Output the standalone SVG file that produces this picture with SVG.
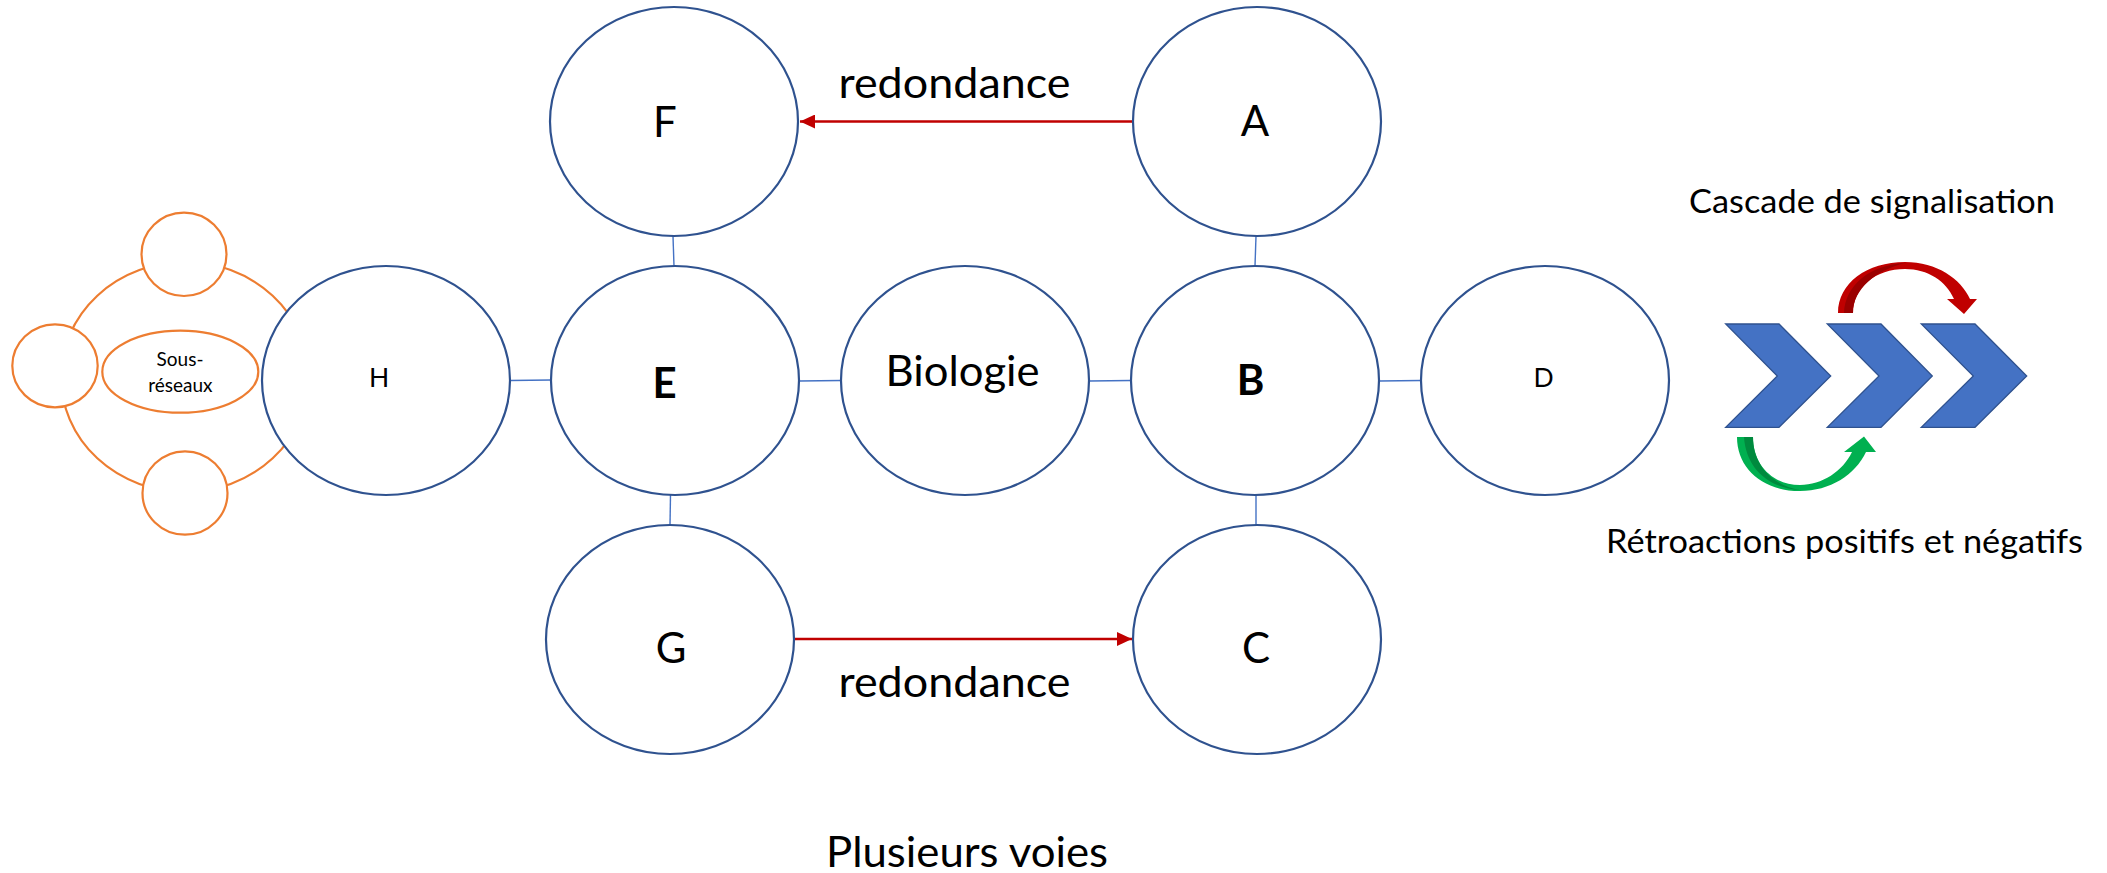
<svg xmlns="http://www.w3.org/2000/svg" width="2107" height="873" viewBox="0 0 2107 873">
  <defs>
    <style>
      .node { fill: #ffffff; stroke: #2F528F; stroke-width: 2.2; }
      .sub { fill: #ffffff; stroke: #ED7D31; stroke-width: 2.2; }
      .link { stroke: #4472C4; stroke-width: 1.4; fill: none; }
      .red { stroke: #C00000; stroke-width: 2.6; fill: none; }
      .chev { fill: #4472C4; stroke: #2F528F; stroke-width: 1.3; }
      text { font-family: Lato, "Open Sans", "Liberation Sans", sans-serif; fill: #000000; }
      .big { font-size: 42px; text-anchor: middle; }
      .bold { font-size: 42px; font-weight: bold; text-anchor: middle; }
      .mid { font-size: 26.5px; text-anchor: middle; }
      .small { font-size: 19px; text-anchor: middle; }
      .note { font-size: 33px; }
    </style>
    <marker id="redHead" markerUnits="userSpaceOnUse" markerWidth="16" markerHeight="14" refX="15" refY="7" orient="auto">
      <path d="M0,0 L15,7 L0,14 Z" fill="#C00000"/>
    </marker>
  </defs>

  <!-- sub-network cluster attached to H -->
  <g id="subnetwork">
    <ellipse class="sub" cx="185" cy="377" rx="124" ry="115" fill="none" style="fill:none"/>
    <ellipse class="sub" cx="184" cy="254.3" rx="42.5" ry="41.7"/>
    <ellipse class="sub" cx="55" cy="365.8" rx="42.7" ry="41.5"/>
    <ellipse class="sub" cx="185" cy="493" rx="42.5" ry="41.7"/>
    <ellipse class="sub" cx="180.3" cy="371.7" rx="78" ry="41"/>
    <text class="small" x="180" y="366">Sous-</text>
    <text class="small" x="180.3" y="391.7">réseaux</text>
  </g>

  <!-- connectors -->
  <g id="connectors">
    <line class="link" x1="673" y1="236" x2="674" y2="266"/>
    <line class="link" x1="1256" y1="236" x2="1255" y2="266"/>
    <line class="link" x1="670.5" y1="495" x2="670" y2="525"/>
    <line class="link" x1="1256" y1="495" x2="1256" y2="525"/>
    <line class="link" x1="510" y1="380.5" x2="551" y2="380"/>
    <line class="link" x1="799" y1="381" x2="841" y2="380.5"/>
    <line class="link" x1="1089" y1="381" x2="1131" y2="380.5"/>
    <line class="link" x1="1379" y1="381" x2="1421" y2="380.5"/>
    <line class="red" x1="1133" y1="121.5" x2="800" y2="121.5" marker-end="url(#redHead)"/>
    <line class="red" x1="794" y1="639" x2="1132" y2="639" marker-end="url(#redHead)"/>
    <text class="big" x="954.5" y="98" textLength="232" lengthAdjust="spacingAndGlyphs">redondance</text>
    <text class="big" x="954.5" y="697" textLength="232" lengthAdjust="spacingAndGlyphs">redondance</text>
  </g>

  <g id="node-H">
    <ellipse class="node" cx="386" cy="380.5" rx="124" ry="114.5"/>
    <text class="mid" x="379" y="387">H</text>
  </g>
  <g id="node-F">
    <ellipse class="node" cx="674" cy="121.5" rx="124" ry="114.5"/>
    <text class="big" x="665" y="137">F</text>
  </g>
  <g id="node-A">
    <ellipse class="node" cx="1257" cy="121.5" rx="124" ry="114.5"/>
    <text class="big" x="1255" y="136">A</text>
  </g>
  <g id="node-E">
    <ellipse class="node" cx="675" cy="380.5" rx="124" ry="114.5"/>
    <text class="bold" x="664.5" y="398">E</text>
  </g>
  <g id="node-Biologie">
    <ellipse class="node" cx="965" cy="380.5" rx="124" ry="114.5"/>
    <text class="big" x="962.6" y="386" textLength="154" lengthAdjust="spacingAndGlyphs">Biologie</text>
  </g>
  <g id="node-B">
    <ellipse class="node" cx="1255" cy="380.5" rx="124" ry="114.5"/>
    <text class="bold" x="1250.5" y="395">B</text>
  </g>
  <g id="node-D">
    <ellipse class="node" cx="1545" cy="380.5" rx="124" ry="114.5"/>
    <text class="mid" x="1543.5" y="387">D</text>
  </g>
  <g id="node-G">
    <ellipse class="node" cx="670" cy="639.5" rx="124" ry="114.5"/>
    <text class="big" x="671" y="663">G</text>
  </g>
  <g id="node-C">
    <ellipse class="node" cx="1257" cy="639.5" rx="124" ry="114.5"/>
    <text class="big" x="1256" y="663">C</text>
  </g>

  <text class="big" x="967" y="867" textLength="282" lengthAdjust="spacingAndGlyphs">Plusieurs voies</text>

  <!-- signalling cascade -->
  <g id="cascade">
    <text class="note" x="1689" y="213" textLength="366" lengthAdjust="spacingAndGlyphs">Cascade de signalisation</text>
    <path class="chev" d="M1725.7,324 L1779,324 L1830.7,376 L1779,427.3 L1725.7,427.3 L1777.3,376 Z"/>
    <path class="chev" d="M1827.3,324 L1881,324 L1932.3,376 L1881,427.3 L1827.3,427.3 L1879,376 Z"/>
    <path class="chev" d="M1921.3,324 L1975,324 L2026.7,376 L1975,427.3 L1921.3,427.3 L1973.3,376 Z"/>
    <!-- curved feedback arrows -->
    <path d="M1838,313 C1838,283 1867,262 1905,262 C1937,262 1961,279 1970,299 L1977,299 L1964,314 L1947,299 L1954,299 C1946,281 1928,269 1905,269 C1876,269 1853,287 1853,313 Z" fill="#C00000"/>
    <path d="M1844,313 C1845,285 1870,265 1905,263 C1876,270 1853,289 1853,313 Z" fill="#9A0000"/>
    <path d="M1737,437 C1737,468 1762,491 1800,491 C1830,491 1855,475 1866,452 L1876,452 L1864,436.5 L1844,452 L1852,452 C1843,471 1822,485 1800,485 C1773,485 1753,465 1753,437 Z" fill="#00B050"/>
    <path d="M1744,437 C1746,468 1768,488 1800,490 C1772,485 1753,465 1753,437 Z" fill="#008A3E"/>
    <text class="note" x="1606" y="553" textLength="477" lengthAdjust="spacingAndGlyphs">Rétroactions positifs et négatifs</text>
  </g>
</svg>
